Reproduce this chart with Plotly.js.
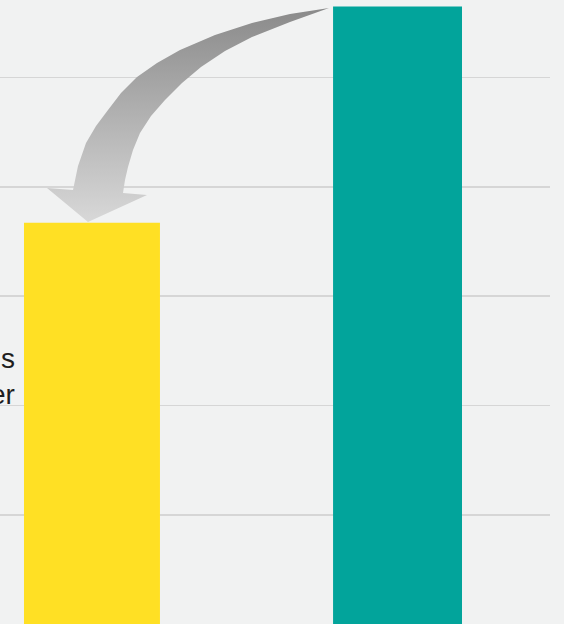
<!DOCTYPE html>
<html>
<head>
<meta charset="utf-8">
<script src="https://cdn.plot.ly/plotly-3.0.1.min.js"></script>
<style>html,body{margin:0;padding:0;background:#f1f2f2;}#chart{width:564px;height:624px;}</style>
</head>
<body>
<div id="chart"></div>
<script>
// Data
const categories = ["Before", "After"];
const values = [3.67, 5.65];
const barColors = ["#ffe024", "#02a49b"];
const labelLines = ["s", "er"];

// Decorative curved arrow outline (in pixel space of overlay axes)
const arrowOuterX = [329, 290, 252, 215, 180, 157, 137, 121, 108, 96, 86, 78, 73];
const arrowOuterY = [8, 14, 23, 35, 50, 63, 77, 93, 110, 126, 143, 166, 190];
const arrowHeadX = [47, 88, 147];
const arrowHeadY = [188, 222, 195];
const arrowInnerX = [123, 125, 128, 133, 140, 151, 165, 182, 201, 225, 252, 290, 329];
const arrowInnerY = [193, 180, 167, 150, 133, 116, 100, 83, 67, 51, 37, 22, 8];

const bars = {
  type: "bar",
  x: [0, 1],
  y: values,
  width: [0.445, 0.422],
  marker: {color: barColors, line: {width: 0}},
  hoverinfo: "none",
  xaxis: "x", yaxis: "y"
};

const arrow = {
  type: "scatter",
  mode: "lines",
  x: arrowOuterX.concat(arrowHeadX, arrowInnerX),
  y: arrowOuterY.concat(arrowHeadY, arrowInnerY),
  fill: "toself",
  line: {width: 0, color: "rgba(0,0,0,0)"},
  fillgradient: {type: "vertical", start: 8, stop: 222,
    colorscale: [[0, "#8a8a8a"], [1, "#d8d8d8"]]},
  hoverinfo: "none",
  xaxis: "x2", yaxis: "y2"
};

const layout = {
  width: 564, height: 624,
  margin: {l: 0, r: 0, t: 0, b: 0, pad: 0},
  paper_bgcolor: "#f1f2f2",
  plot_bgcolor: "rgba(0,0,0,0)",
  showlegend: false,
  xaxis: {domain: [0, 550/564], range: [-0.301, 1.499], showgrid: false, zeroline: false,
    showticklabels: false, ticks: "", tickvals: [0, 1], ticktext: categories, fixedrange: true},
  yaxis: {range: [0, 5.709], dtick: 1, showgrid: true, gridcolor: "#d6d6d6", gridwidth: 1.6,
    zeroline: false, showticklabels: false, ticks: "", fixedrange: true},
  xaxis2: {domain: [0, 1], range: [0, 564], anchor: "y2", visible: false, fixedrange: true},
  yaxis2: {domain: [0, 1], range: [624, 0], anchor: "x2", visible: false, fixedrange: true},
  annotations: [{
    xref: "x2", yref: "y2", x: 17, y: 412, xanchor: "right", yanchor: "bottom",
    text: labelLines.join("<br>"), showarrow: false, align: "right",
    font: {family: "Liberation Sans, Arial, sans-serif", size: 28, color: "#1e1e1e"}
  }]
};

Plotly.newPlot("chart", [bars, arrow], layout, {displayModeBar: false, staticPlot: true});
</script>
</body>
</html>
